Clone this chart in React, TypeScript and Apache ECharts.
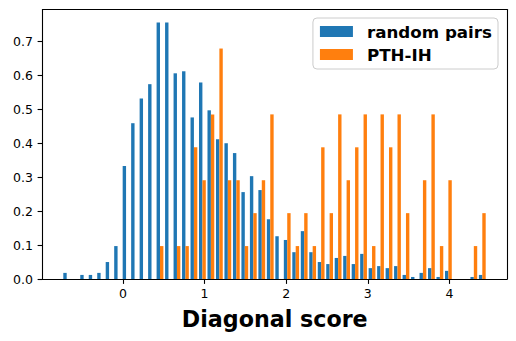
import React, { useEffect, useRef } from "react";
import * as echarts from "echarts";

// Histogram bins (50 equal-width bins shared by both series)
const binStart = -0.7406;
const binWidth = 0.1039;

// Density values, one per bin
const randomPairs = [
  0.018, 0, 0.012, 0.012, 0.018, 0.05, 0.097, 0.333, 0.459, 0.532,
  0.574, 0.756, 0.756, 0.606, 0.612, 0.476, 0.579, 0.497, 0.412, 0.4,
  0.371, 0.256, 0.303, 0.262, 0.176, 0.126, 0.115, 0.079, 0.141, 0.079,
  0.05, 0.044, 0.062, 0.068, 0.044, 0.074, 0.032, 0.038, 0.032, 0.038,
  0.012, 0.006, 0.018, 0.032, 0.006, 0.024, 0, 0, 0.006, 0.012,
];
const pthIH = [
  0, 0, 0, 0, 0, 0, 0, 0, 0, 0,
  0, 0.097, 0, 0.097, 0.097, 0.388, 0.291, 0.485, 0.679, 0.291,
  0.291, 0.097, 0.194, 0.291, 0.485, 0, 0.194, 0.097, 0.194, 0.097,
  0.388, 0.194, 0.485, 0.291, 0.388, 0.485, 0.097, 0.485, 0.388, 0.485,
  0.194, 0, 0.291, 0.485, 0.097, 0.291, 0, 0, 0.097, 0.194,
];

const seriesNames = ["random pairs", "PTH-IH"];
const xTicks = [0, 1, 2, 3, 4];
const yTicks = [0, 0.1, 0.2, 0.3, 0.4, 0.5, 0.6, 0.7];
const xLabel = "Diagonal score";

const FONT = "'DejaVu Sans', sans-serif";
const X_MIN = -0.985;
const X_MAX = 4.705;
const Y_MAX = 0.794;

export default function App() {
  const ref = useRef<HTMLDivElement>(null);
  useEffect(() => {
    document.body.style.margin = "0";
    if (!ref.current) return;
    const chart = echarts.init(ref.current, null, { renderer: "svg" });
    const centers = randomPairs.map((_, i) => binStart + (i + 0.5) * binWidth);
    const barW = binWidth * 0.4 * 81.75;
    const spine = { show: true, onZero: false, lineStyle: { color: "#000", width: 1.1 } };
    const tick = (vals: number[]) => ({
      show: true,
      length: 4.9,
      lineStyle: { color: "#000", width: 1.1 },
      customValues: vals,
    });
    chart.setOption({
      animation: false,
      grid: {
        left: 42.5,
        right: 9,
        top: 9.5,
        bottom: 62,
        containLabel: false,
        outerBoundsMode: "none",
      },
      legend: {
        orient: "vertical",
        right: 18,
        top: 18,
        icon: "rect",
        itemWidth: 33,
        itemHeight: 11,
        itemGap: 6,
        padding: [5, 6, 6, 7],
        backgroundColor: "rgba(255,255,255,0.8)",
        borderColor: "#cccccc",
        borderWidth: 1,
        borderRadius: 4,
        textStyle: {
          fontFamily: FONT,
          fontSize: 16.7,
          fontWeight: "bold",
          color: "#000",
          lineHeight: 17,
          padding: [0, 0, 0, 9],
        },
        data: seriesNames,
      },
      xAxis: [
        {
          type: "value",
          position: "bottom",
          min: X_MIN,
          max: X_MAX,
          axisLine: spine,
          splitLine: { show: false },
          axisTick: tick(xTicks),
          axisLabel: {
            customValues: xTicks,
            margin: 8,
            fontFamily: FONT,
            fontSize: 12.5,
            color: "#000",
          },
          name: xLabel,
          nameLocation: "middle",
          nameGap: 29,
          nameTextStyle: {
            fontFamily: FONT,
            fontSize: 22.2,
            fontWeight: "bold",
            color: "#000",
          },
        },
        {
          type: "value",
          position: "top",
          min: X_MIN,
          max: X_MAX,
          axisLine: spine,
          axisTick: { show: false },
          axisLabel: { show: false },
          splitLine: { show: false },
        },
      ],
      yAxis: [
        {
          type: "value",
          position: "left",
          min: 0,
          max: Y_MAX,
          axisLine: spine,
          splitLine: { show: false },
          axisTick: tick(yTicks),
          axisLabel: {
            customValues: yTicks,
            margin: 9.5,
            fontFamily: FONT,
            fontSize: 12.5,
            color: "#000",
            formatter: (v: number) => v.toFixed(1),
          },
        },
        {
          type: "value",
          position: "right",
          min: 0,
          max: Y_MAX,
          axisLine: spine,
          axisTick: { show: false },
          axisLabel: { show: false },
          splitLine: { show: false },
        },
      ],
      series: [
        {
          name: seriesNames[0],
          type: "bar",
          data: centers.map((c, i) => [c, randomPairs[i]]),
          barWidth: barW,
          barGap: "0%",
          itemStyle: { color: "#1f77b4" },
        },
        {
          name: seriesNames[1],
          type: "bar",
          data: centers.map((c, i) => [c, pthIH[i]]),
          barWidth: barW,
          barGap: "0%",
          itemStyle: { color: "#ff7f0e" },
        },
      ],
    });
    return () => chart.dispose();
  }, []);
  return (
    <div
      ref={ref}
      style={{ width: 516, height: 341, position: "absolute", left: 0, top: 0 }}
    />
  );
}
